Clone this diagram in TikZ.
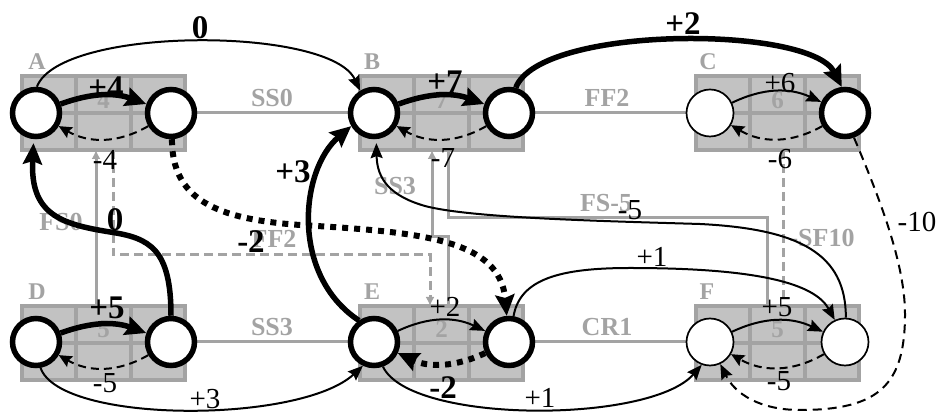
\documentclass[tikz,border=0pt]{standalone}
\usepackage{fontspec}
\setmainfont{Liberation Serif}
\usetikzlibrary{arrows.meta,calc}
\definecolor{relgray}{HTML}{A3A3A3}
\definecolor{cellgray}{HTML}{C2C2C2}

\begin{document}
\begin{tikzpicture}[x=1pt,y=1pt,
  ev/.style={circle, draw, fill=white, minimum size=47pt, inner sep=0pt},
  critring/.style={line width=5.5pt},
  thinring/.style={line width=1.7pt},
  actbox/.style={rectangle, draw=relgray, fill=cellgray, line width=4pt,
    minimum width=163pt, minimum height=74pt, inner sep=0pt, outer sep=0pt},
  cellline/.style={draw=relgray, line width=4pt},
  rel/.style={draw=relgray, line width=3pt},
  reldash/.style={rel, dash pattern=on 9pt off 5pt},
  relarrow/.style={-{Latex[length=9pt,width=9pt]}},
  rellabel/.style={text=relgray, font=\fontsize{26}{28}\selectfont\bfseries, inner sep=0pt},
  actlabel/.style={text=relgray, font=\fontsize{24}{26}\selectfont\bfseries, inner sep=0pt},
  durlabel/.style={text=relgray, font=\fontsize{25}{27}\selectfont\bfseries, inner sep=0pt},
  numlabel/.style={font=\fontsize{29}{31}\selectfont, inner sep=0pt},
  boldlabel/.style={font=\fontsize{33}{35}\selectfont\bfseries, inner sep=0pt},
  bigtip/.style={-{Stealth[length=21pt,width=19pt,inset=3pt]}},
  smalltip/.style={-{Stealth[length=15pt,width=12pt,inset=2pt]}},
  thickcon/.style={line width=5.5pt, bigtip},
  thincon/.style={line width=2pt, smalltip},
  backdash/.style={line width=2pt, dash pattern=on 8pt off 5pt,
    -{Stealth[length=13pt,width=12pt,inset=2pt]}},
  critdot/.style={line width=6pt, dash pattern=on 6pt off 6pt, bigtip},
  lagdash/.style={line width=2pt, dash pattern=on 9pt off 6pt, smalltip},
]
\useasboundingbox (0,0) rectangle (944,414);

% ---------- activity box outlines (named, drawn later) ----------
\foreach \b/\x/\y in {A/103.5/301, B/441.5/301, C/777.5/301,
                      D/103.5/71, E/441.5/71, F/777.5/71}{
  \node[actbox, draw=none, fill=none] (box\b) at (\x,\y) {};
}

% ---------- relation lines (under the boxes) ----------
\draw[rel] (171,301) -- (374,301);
\draw[rel] (509,301) -- (710,301);
\draw[rel] (171,72) -- (374,72);
\draw[rel] (509,72) -- (710,72);
% FS0
\draw[rel, relarrow] ($(boxD.north west)+(74,0)$) -- ($(boxA.south west)+(74,0)$);
% SS3 between E and B
\draw[rel, relarrow] ($(boxE.north west)+(88,0)$) -- ++(0,69) -- ++(-16,0)
  -- ($(boxB.south west)+(72,0)$);
% FS-5 between B and F
\draw[rel] ($(boxB.south west)+(88,0)$) -- ++(0,-68) -- ++(319,0)
  -- ($(boxF.north west)+(71,0)$);
% FF2 between A and E
\draw[reldash, relarrow] ($(boxA.south west)+(91,0)$) -- ++(0,-105) -- ++(317,0)
  -- ($(boxE.north west)+(70,0)$);
% SF10 between C and F
\draw[reldash] ($(boxC.south west)+(87,0)$) -- ($(boxF.north west)+(87,0)$);

% ---------- boxes on top of the relation lines ----------
\foreach \b in {A,B,C,D,E,F}{
  \node[actbox] at (box\b.center) {};
  \draw[cellline] ($(box\b.north west)!1/3!(box\b.north east)$)
    -- ($(box\b.south west)!1/3!(box\b.south east)$);
  \draw[cellline] ($(box\b.north west)!2/3!(box\b.north east)$)
    -- ($(box\b.south west)!2/3!(box\b.south east)$);
  \draw[cellline] (box\b.west) -- (box\b.east);
}

% durations in the top middle cells
\node[durlabel] (dA) at (103.5,314) {4};
\node[durlabel] (dB) at (441.5,314) {7};
\node[durlabel] (dC) at (777.5,314) {6};
\node[durlabel] (dD) at (103.5,85) {5};
\node[durlabel] (dE) at (441.5,85) {2};
\node[durlabel] (dF) at (777.5,85) {5};

% activity names
\node[actlabel] (nA) at (37,352) {A};
\node[actlabel] (nB) at (372,352) {B};
\node[actlabel] (nC) at (708,352) {C};
\node[actlabel] (nD) at (37,122) {D};
\node[actlabel] (nE) at (372,122) {E};
\node[actlabel] (nF) at (707,122) {F};

% relation labels
\node[rellabel] (rSS0) at (272,316) {SS0};
\node[rellabel] (rFF2) at (607,316) {FF2};
\node[rellabel] (rSS3) at (272,87) {SS3};
\node[rellabel] (rCR1) at (607,87) {CR1};
\node[rellabel] (rFS0) at (61,192) {FS0};
\node[rellabel] (rFF2b) at (274,175) {FF2};
\node[rellabel] (rSS3b) at (395,228) {SS3};
\node[rellabel] (rFS5) at (606,211) {FS-5};
\node[rellabel] (rSF10) at (822,176) {-SF10};

% ---------- event circles ----------
\node[ev, critring] (A1) at (36,301) {};
\node[ev, critring] (A2) at (171,301) {};
\node[ev, critring] (B1) at (374,301) {};
\node[ev, critring] (B2) at (509,301) {};
\node[ev, thinring] (C1) at (710,301) {};
\node[ev, critring] (C2) at (845,301) {};
\node[ev, critring] (D1) at (36,72) {};
\node[ev, critring] (D2) at (171,72) {};
\node[ev, critring] (E1) at (374,72) {};
\node[ev, critring] (E2) at (509,72) {};
\node[ev, thinring] (F1) at (710,72) {};
\node[ev, thinring] (F2) at (845,72) {};

% ---------- arrows inside the activities ----------
\draw[thickcon] (A1) to[bend left=20] (A2);
\draw[backdash] (A2) to[bend left=30] (A1);
\draw[thickcon] (B1) to[bend left=20] (B2);
\draw[backdash] (B2) to[bend left=30] (B1);
\draw[thincon] (C1) to[bend left=25] (C2);
\draw[backdash] (C2) to[bend left=30] (C1);
\draw[thickcon] (D1) to[bend left=20] (D2);
\draw[backdash] (D2) to[bend left=30] (D1);
\draw[thincon] (E1) to[bend left=25] (E2);
\draw[critdot] (E2) to[bend left=25] (E1);
\draw[thincon] (F1) to[bend left=25] (F2);
\draw[backdash] (F2) to[bend left=30] (F1);

% ---------- links between events ----------
\draw[thincon] (A1.88) .. controls (60,388) and (330,388) .. (B1.122);
\draw[thickcon] (B2.75) .. controls (540,389) and (810,389) .. (C2.97);
\draw[thickcon] (E1.125) .. controls (290,139) and (300,244) .. (B1.210);
\draw[thickcon, shorten >=4pt] (D2.90) .. controls (171,165) and (150,176) .. (110,182)
  .. controls (60,190) and (30,200) .. (A1.-95);
\draw[critdot] (A2.-88) .. controls (172,215) and (215,195) .. (300,189)
  .. controls (420,182) and (500,175) .. (E2.95);
\draw[thincon, shorten >=4pt] (F2.88) .. controls (846,160) and (800,185) .. (700,190)
  .. controls (600,193) and (470,196) .. (425,208)
  .. controls (390,218) and (377,235) .. (B1.-85);
\draw[thincon] (E2.80) .. controls (520,135) and (560,146) .. (630,146)
  .. controls (760,146) and (815,130) .. (F2.115);
\draw[thincon] (D1.-80) .. controls (60,-10) and (300,-10) .. (E1.-115);
\draw[thincon] (E1.-70) .. controls (410,-10) and (650,-10) .. (F1.-110);
\draw[lagdash] (C2.-70) .. controls (880,215) and (905,150) .. (905,100)
  .. controls (905,30) and (880,4) .. (800,4)
  .. controls (760,4) and (735,20) .. (F1.-65);

% ---------- lag labels ----------
\node[boldlabel] (lAB) at (200,386) {0};
\node[boldlabel] (lBC) at (683,390) {+2};
\node[boldlabel] (lAf) at (106,326) {+4};
\node[numlabel] (lAb) at (105,254) {-4};
\node[boldlabel] (lBf) at (445,332) {+7};
\node[numlabel] (lBb) at (443,256) {-7};
\node[numlabel] (lCf) at (780,331) {+6};
\node[numlabel] (lCb) at (780,255) {-6};
\node[boldlabel] (lDf) at (107,106) {+5};
\node[numlabel] (lDb) at (105,31) {-5};
\node[numlabel] (lEf) at (445,107) {+2};
\node[boldlabel] (lEb) at (443,26) {-2};
\node[numlabel] (lFf) at (777,107) {+5};
\node[numlabel] (lFb) at (779,33) {-5};
\node[boldlabel] (lEB) at (293,242) {+3};
\node[boldlabel] (lDA) at (115,194) {0};
\node[boldlabel] (lAE) at (251,172) {-2};
\node[numlabel] (lFB) at (630,204) {-5};
\node[numlabel] (lEFt) at (652,157) {+1};
\node[numlabel] (lDE) at (205,15) {+3};
\node[numlabel] (lEFb) at (540,16) {+1};
\node[numlabel] (lCF) at (917,192) {-10};
\end{tikzpicture}
\end{document}
